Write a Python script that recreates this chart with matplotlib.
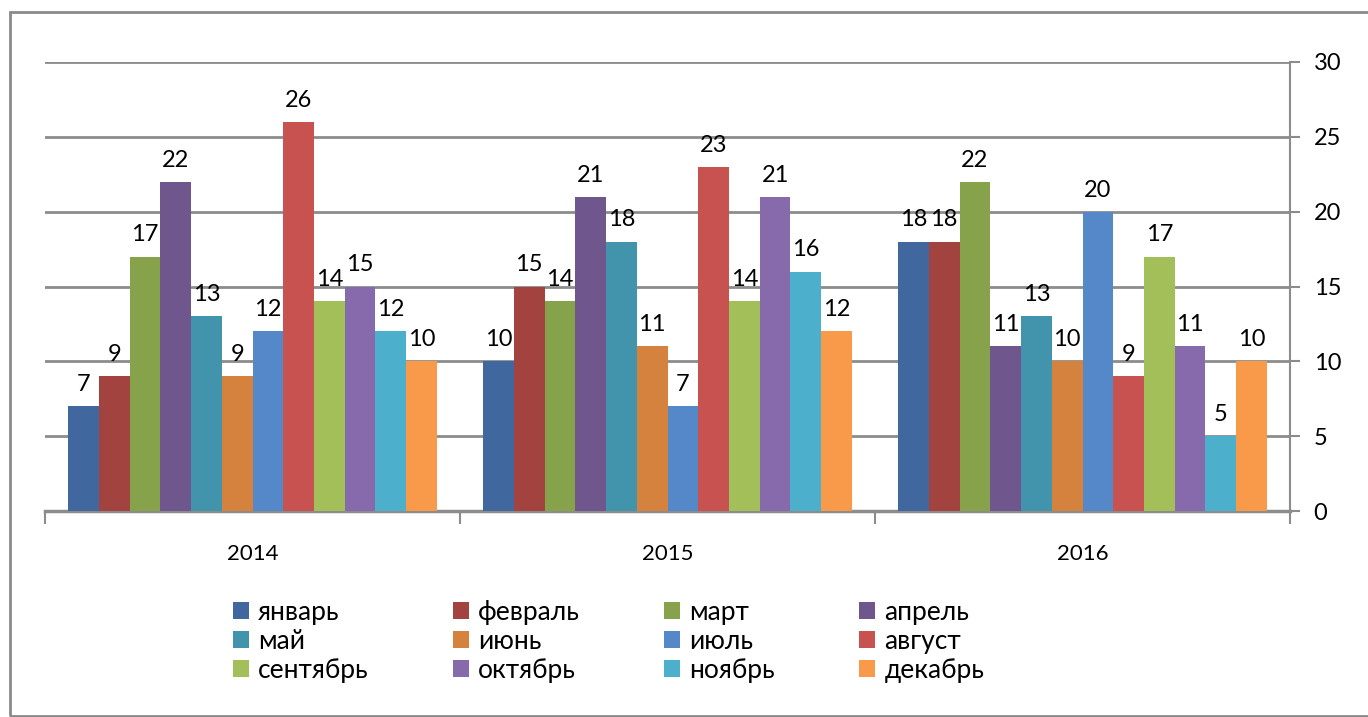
import matplotlib
matplotlib.use("Agg")
import matplotlib.pyplot as plt
from matplotlib.patches import Rectangle, Patch
import numpy as np

plt.rcParams['font.family'] = ['Lato', 'Open Sans', 'DejaVu Sans']

# data
years = ['2014', '2015', '2016']
months = ['январь', 'февраль', 'март', 'апрель', 'май', 'июнь',
          'июль', 'август', 'сентябрь', 'октябрь', 'ноябрь', 'декабрь']
values = {
    'январь':   [7, 10, 18],
    'февраль':  [9, 15, 18],
    'март':     [17, 14, 22],
    'апрель':   [22, 21, 11],
    'май':      [13, 18, 13],
    'июнь':     [9, 11, 10],
    'июль':     [12, 7, 20],
    'август':   [26, 23, 9],
    'сентябрь': [14, 14, 17],
    'октябрь':  [15, 21, 11],
    'ноябрь':   [12, 16, 5],
    'декабрь':  [10, 12, 10],
}
colors = ['#41689E', '#A3433F', '#86A24A', '#6F568D', '#4194AB', '#D6823F',
          '#5588C8', '#C8524F', '#A2BF5A', '#876AAB', '#4CB0CC', '#F99A4A']

fig = plt.figure(figsize=(13.68, 7.17), dpi=100)
ax = fig.add_axes([45 / 1368, 1 - 511 / 717, (1290 - 45) / 1368, (511 - 62) / 717])

# outer frame like an Excel chart area
fig.patches.append(Rectangle((10 / 1368, 0.002), 1.2, 1 - 12 / 717 - 0.002,
                             transform=fig.transFigure, fill=False,
                             edgecolor='#8a8a8a', linewidth=2, zorder=0))

n = len(months)
x = np.arange(len(years))
w = 1.0 / (n + 1.5)
handles = []
for i, m in enumerate(months):
    pos = x - 0.5 + 0.75 * w + (i + 0.5) * w
    bars = ax.bar(pos, values[m], width=w, color=colors[i], linewidth=0, zorder=3)
    for b, v in zip(bars, values[m]):
        ax.annotate(str(v), (b.get_x() + b.get_width() / 2, v),
                    xytext=(0, 8), textcoords='offset points',
                    ha='center', va='bottom', fontsize=17, zorder=4)
    handles.append(Patch(facecolor=colors[i], label=m))

ax.set_xlim(-0.5, 2.5)
ax.set_ylim(0, 30)
ax.set_yticks(range(0, 31, 5))
ax.yaxis.tick_right()
ax.grid(axis='y', color='#8c8c8c', linewidth=2, zorder=0)
ax.set_axisbelow(True)
for s in ['top', 'left']:
    ax.spines[s].set_visible(False)
ax.spines['right'].set_color('#8c8c8c')
ax.spines['right'].set_linewidth(1.5)
ax.spines['bottom'].set_color('#8c8c8c')
ax.spines['bottom'].set_linewidth(2.5)
ax.tick_params(axis='y', right=True, length=7, width=1.5, color='#8c8c8c',
               labelsize=17, pad=10)
ax.set_xticks([-0.5, 0.5, 1.5, 2.5])
ax.set_xticklabels([])
ax.set_xticks(x, minor=True)
ax.set_xticklabels(years, minor=True)
ax.tick_params(axis='x', which='major', length=9, width=1.5, color='#8c8c8c',
               direction='out')
ax.tick_params(axis='x', which='minor', length=0, labelsize=16, pad=24)

# legend filled row by row
order = [0, 4, 8, 1, 5, 9, 2, 6, 10, 3, 7, 11]
fig.legend([handles[k] for k in order], [months[k] for k in order],
           ncol=4, loc='upper left', bbox_to_anchor=(209 / 1368, 1 - 576 / 717),
           frameon=False, fontsize=19, handlelength=0.6, handleheight=0.6,
           handletextpad=0.35, columnspacing=3.2, labelspacing=0.15)

fig.savefig('out.png', dpi=100)
